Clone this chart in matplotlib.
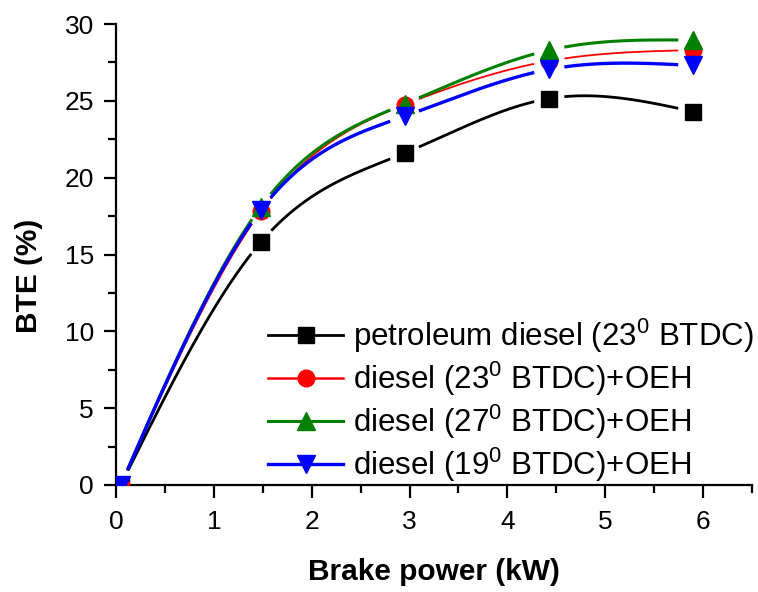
import numpy as np
import matplotlib
matplotlib.use("Agg")
import matplotlib.pyplot as plt
from matplotlib.ticker import MultipleLocator

plt.rcParams['font.family'] = ['Liberation Sans', 'DejaVu Sans']
plt.rcParams['mathtext.fontset'] = 'custom'
plt.rcParams['mathtext.rm'] = 'Liberation Sans'
plt.rcParams['mathtext.it'] = 'Liberation Sans'

power = [0.05, 1.48, 2.95, 4.43, 5.9]
bte_petro = [0.0, 15.8, 21.6, 25.15, 24.3]
bte_d23 = [0.0, 17.8, 24.75, 27.6, 28.3]
bte_d27 = [0.0, 18.1, 24.8, 28.3, 28.95]
bte_d19 = [0.0, 17.9, 24.0, 27.05, 27.3]

labels = ["petroleum diesel (23$^0$ BTDC)", "diesel (23$^0$ BTDC)+OEH",
          "diesel (27$^0$ BTDC)+OEH", "diesel (19$^0$ BTDC)+OEH"]
colors = ["black", "red", "green", "blue"]
markers = ["s", "o", "^", "v"]
msizes = [11, 12, 13, 13]
lws = [2.0, 1.3, 2.2, 2.4]


def natural_spline(x, y, xs):
    x = np.asarray(x, float); y = np.asarray(y, float)
    n = len(x)
    h = np.diff(x)
    A = np.zeros((n, n)); b = np.zeros(n)
    A[0, 0] = 1; A[-1, -1] = 1
    for i in range(1, n - 1):
        A[i, i - 1] = h[i - 1]
        A[i, i] = 2 * (h[i - 1] + h[i])
        A[i, i + 1] = h[i]
        b[i] = 3 * ((y[i + 1] - y[i]) / h[i] - (y[i] - y[i - 1]) / h[i - 1])
    c = np.linalg.solve(A, b)
    out = np.empty_like(xs)
    for k, xv in enumerate(xs):
        i = min(max(np.searchsorted(x, xv) - 1, 0), n - 2)
        dx = xv - x[i]
        bi = (y[i + 1] - y[i]) / h[i] - h[i] * (2 * c[i] + c[i + 1]) / 3
        di = (c[i + 1] - c[i]) / (3 * h[i])
        out[k] = y[i] + bi * dx + c[i] * dx ** 2 + di * dx ** 3
    return out


W, H = 758, 592
fig = plt.figure(figsize=(W / 100, H / 100), dpi=100)
ax = fig.add_axes([116 / W, 1 - 485 / H, (752 - 116) / W, (485 - 24) / H])
ax.set_xlim(0, 6.5)
ax.set_ylim(0, 30)

series = [bte_petro, bte_d23, bte_d27, bte_d19]
xs = np.linspace(power[0], power[-1], 800)
fig.canvas.draw()
for ys, col, mk, ms, lw, lab in zip(series, colors, markers, msizes, lws, labels):
    yc = natural_spline(power, ys, xs)
    # gaps around markers (Origin style)
    pts = ax.transData.transform(np.column_stack([xs, yc]))
    mpts = ax.transData.transform(np.column_stack([power, ys]))
    d = np.min(np.hypot(pts[:, None, 0] - mpts[None, :, 0], pts[:, None, 1] - mpts[None, :, 1]), axis=1)
    yc = np.where(d < 15, np.nan, yc)
    ax.plot(xs, yc, color=col, lw=lw, zorder=2, solid_capstyle='butt')
    ax.plot(power, ys, ls='none', marker=mk, color=col, ms=ms, zorder=3)
    ax.plot([], [], color=col, lw=max(lw, 1.8), marker=mk, ms=ms, label=lab)

for s in ['top', 'right']:
    ax.spines[s].set_visible(False)
for s in ['left', 'bottom']:
    ax.spines[s].set_linewidth(1.6)

ax.xaxis.set_major_locator(MultipleLocator(1))
ax.xaxis.set_minor_locator(MultipleLocator(0.5))
ax.yaxis.set_major_locator(MultipleLocator(5))
ax.yaxis.set_minor_locator(MultipleLocator(2.5))
ax.tick_params(which='major', direction='out', length=9, width=1.6, labelsize=19)
ax.tick_params(axis='y', which='major', pad=7)
ax.tick_params(axis='x', which='major', pad=9)
ax.tick_params(which='minor', direction='out', length=6, width=1.6)

fig.text(434 / W, 1 - 572 / H, "Brake power (kW)", fontsize=21.5, fontweight='bold',
         ha='center', va='center')
fig.text(29 / W, 1 - 276 / H, "BTE (%)", fontsize=21.5, fontweight='bold',
         ha='center', va='center', rotation=90)

leg = ax.legend(loc='lower left', bbox_to_anchor=(0.205, -0.045), frameon=False,
                fontsize=22.5, handlelength=2.4, handletextpad=0.3, labelspacing=0.15,
                borderpad=0.2)

fig.savefig("out.png", dpi=100)
